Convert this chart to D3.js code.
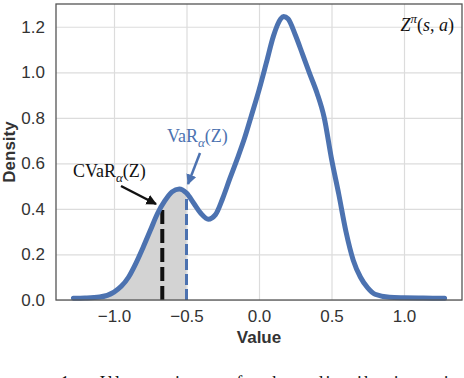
<!DOCTYPE html>
<html>
<head>
<meta charset="utf-8">
<script src="https://cdn.jsdelivr.net/npm/d3@7"></script>
<style>
  body { margin: 0; background: #fff; }
  svg { display: block; }
  .tick text { font-family: "Liberation Sans", Arial, sans-serif; font-size: 17px; fill: #333; }
  .axisLabel { font-family: "Liberation Sans", Arial, sans-serif; font-size: 17px; font-weight: bold; fill: #333; }
  .note { font-family: "Liberation Serif", "Times New Roman", serif; font-size: 18px; }
</style>
</head>
<body>
<script>
//density curve of the return distribution, with VaR / CVaR markers

//values
var xValues = [-1.28, -1.2, -1.1, -1.0, -0.95, -0.9, -0.85, -0.8, -0.75, -0.7, -0.65, -0.6, -0.55, -0.5,
    -0.45, -0.4, -0.35, -0.3, -0.25, -0.2, -0.15, -0.1, -0.05, 0, 0.05, 0.1, 0.15, 0.17, 0.2, 0.25, 0.3,
    0.35, 0.4, 0.45, 0.5, 0.55, 0.6, 0.65, 0.7, 0.75, 0.8, 0.9, 1.0, 1.1, 1.2, 1.28];
var densityValues = [0.008, 0.009, 0.013, 0.035, 0.06, 0.10, 0.16, 0.23, 0.305, 0.38, 0.435, 0.475, 0.488, 0.47,
    0.425, 0.38, 0.355, 0.375, 0.447, 0.535, 0.62, 0.71, 0.815, 0.922, 1.04, 1.16, 1.235, 1.245, 1.235, 1.165, 1.08,
    0.993, 0.909, 0.80, 0.62, 0.465, 0.30, 0.175, 0.10, 0.053, 0.025, 0.012, 0.01, 0.009, 0.008, 0.008];
var xTicks = [-1.0, -0.5, 0.0, 0.5, 1.0];
var yTicks = [0.0, 0.2, 0.4, 0.6, 0.8, 1.0, 1.2];
var varValue = -0.5;      //VaR position
var cvarValue = -0.667;   //CVaR position

var width = 464,
    height = 378,
    margin = {top: 4, right: 2, bottom: 78, left: 56},
    innerWidth = width - margin.left - margin.right,
    innerHeight = height - margin.top - margin.bottom;

var blue = "#4c72b0";

var data = xValues.map(function(x, i){ return {x: x, y: densityValues[i]}; });

var svg = d3.select("body")
    .append("svg")
    .attr("width", width)
    .attr("height", height);

var x = d3.scaleLinear().domain([-1.4, 1.4]).range([0, innerWidth]);
var y = d3.scaleLinear().domain([0, 1.3]).range([innerHeight, 0]);

var g = svg.append("g")
    .attr("transform", "translate(" + margin.left + "," + margin.top + ")");

//grid lines
g.append("g")
    .attr("transform", "translate(0," + innerHeight + ")")
    .call(d3.axisBottom(x).tickValues(xTicks).tickSize(-innerHeight).tickPadding(10)
        .tickFormat(function(d){ return d3.format(".1f")(d).replace("-", "\u2212"); }))
    .call(function(a){
        a.select(".domain").remove();
        a.selectAll(".tick line").attr("stroke", "#dcdcdc").attr("stroke-width", 1.2);
    });

g.append("g")
    .call(d3.axisLeft(y).tickValues(yTicks).tickSize(-innerWidth).tickPadding(11).tickFormat(d3.format(".1f")))
    .call(function(a){
        a.select(".domain").remove();
        a.selectAll(".tick line").attr("stroke", "#dcdcdc").attr("stroke-width", 1.2);
    });

//interpolate density at a value
function densityAt(v){
    var i = d3.bisector(function(d){ return d.x; }).left(data, v);
    if (i <= 0) return data[0].y;
    var a = data[i - 1], b = data[i];
    return a.y + (b.y - a.y) * (v - a.x) / (b.x - a.x);
}

//shaded tail up to VaR
var tail = data.filter(function(d){ return d.x <= varValue; });
g.append("path")
    .datum(tail)
    .attr("fill", "#d3d3d3")
    .attr("d", d3.area()
        .x(function(d){ return x(d.x); })
        .y0(y(0))
        .y1(function(d){ return y(d.y); })
        .curve(d3.curveMonotoneX));

//CVaR dashed line
g.append("line")
    .attr("x1", x(cvarValue)).attr("x2", x(cvarValue))
    .attr("y1", y(0)).attr("y2", y(densityAt(cvarValue)))
    .attr("stroke", "#111")
    .attr("stroke-width", 4)
    .attr("stroke-dasharray", "14,5");

//VaR dashed line
g.append("line")
    .attr("x1", x(varValue)).attr("x2", x(varValue))
    .attr("y1", y(0)).attr("y2", y(densityAt(varValue)))
    .attr("stroke", blue)
    .attr("stroke-width", 3)
    .attr("stroke-dasharray", "11,4");

//density curve
g.append("path")
    .datum(data)
    .attr("fill", "none")
    .attr("stroke", blue)
    .attr("stroke-width", 5)
    .attr("stroke-linejoin", "round")
    .attr("stroke-linecap", "round")
    .attr("d", d3.line()
        .x(function(d){ return x(d.x); })
        .y(function(d){ return y(d.y); })
        .curve(d3.curveMonotoneX));

//frame
g.append("rect")
    .attr("width", innerWidth)
    .attr("height", innerHeight)
    .attr("fill", "none")
    .attr("stroke", "#555")
    .attr("stroke-width", 1.3);

//axis labels
svg.append("text")
    .attr("class", "axisLabel")
    .attr("x", margin.left + x(0))
    .attr("y", 343)
    .attr("text-anchor", "middle")
    .text("Value");

svg.append("text")
    .attr("class", "axisLabel")
    .attr("transform", "translate(15," + (margin.top + innerHeight / 2) + ") rotate(-90)")
    .attr("text-anchor", "middle")
    .text("Density");

//arrow heads
var defs = svg.append("defs");
[["arrowBlack", "#111"], ["arrowBlue", blue]].forEach(function(m){
    defs.append("marker")
        .attr("id", m[0])
        .attr("viewBox", "0 0 10 10")
        .attr("refX", 9).attr("refY", 5)
        .attr("markerWidth", 4.2).attr("markerHeight", 4.2)
        .attr("markerUnits", "strokeWidth")
        .attr("orient", "auto")
        .append("path")
        .attr("d", "M0,0 L10,5 L0,10 z")
        .attr("fill", m[1]);
});

//CVaR annotation
var cv = svg.append("text").attr("class", "note").attr("x", 73).attr("y", 177).attr("fill", "#111");
cv.append("tspan").text("CVaR");
cv.append("tspan").attr("dy", 5).attr("font-size", 13).attr("font-style", "italic").text("α");
cv.append("tspan").attr("dy", -5).text("(Z)");

svg.append("line")
    .attr("x1", 121).attr("y1", 186)
    .attr("x2", 156).attr("y2", 204)
    .attr("stroke", "#111")
    .attr("stroke-width", 2.5)
    .attr("marker-end", "url(#arrowBlack)");

//VaR annotation
var vr = svg.append("text").attr("class", "note").attr("x", 167).attr("y", 142).attr("fill", blue);
vr.append("tspan").text("VaR");
vr.append("tspan").attr("dy", 5).attr("font-size", 13).attr("font-style", "italic").text("α");
vr.append("tspan").attr("dy", -5).text("(Z)");

svg.append("line")
    .attr("x1", 200).attr("y1", 153)
    .attr("x2", 188).attr("y2", 184)
    .attr("stroke", blue)
    .attr("stroke-width", 2.5)
    .attr("marker-end", "url(#arrowBlue)");

//distribution label
var zl = svg.append("text").attr("class", "note").attr("x", 454).attr("y", 31)
    .attr("text-anchor", "end").attr("font-size", 20).attr("fill", "#111");
zl.append("tspan").attr("font-style", "italic").text("Z");
zl.append("tspan").attr("dy", -8).attr("font-size", 13).attr("font-style", "italic").text("π");
zl.append("tspan").attr("dy", 8).text("(");
zl.append("tspan").attr("font-style", "italic").text("s");
zl.append("tspan").text(", ");
zl.append("tspan").attr("font-style", "italic").text("a");
zl.append("tspan").text(")");

//clipped caption below the figure
svg.append("text")
    .attr("class", "note")
    .attr("x", -20).attr("y", 389)
    .attr("font-size", 20)
    .attr("fill", "#111")
    .attr("textLength", 480)
    .attr("lengthAdjust", "spacing")
    .attr("word-spacing", 14)
    .text("Figure 1: Illustration of the distribution in");
</script>
</body>
</html>
